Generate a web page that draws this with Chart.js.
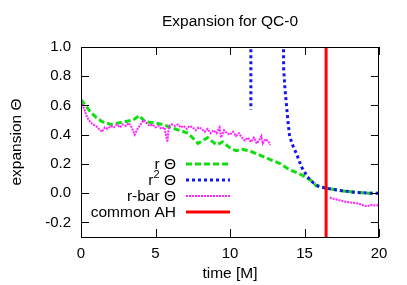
<!DOCTYPE html>
<html>
<head>
<meta charset="UTF-8">
<title>Expansion for QC-0</title>
<script src="https://cdn.jsdelivr.net/npm/chart.js"></script>
<style>
    body { margin: 0; background: #fff; }
    #box { width: 407px; height: 285px; }
</style>
</head>
<body>
<div id="box"><canvas id="myChart" width="407" height="285"></canvas></div>
<script>
// data
const tR = [0, 0.3, 0.6, 1.0, 1.4, 2.0, 2.5, 3.0, 3.5, 3.9, 4.3, 5.0, 5.5, 6.0, 6.6, 7.2, 7.85, 8.5, 9.1, 9.5, 10.0, 10.4, 10.8, 11.3, 12.0, 12.7, 13.4, 14.0, 14.5, 14.9, 15.4, 15.8, 16.4, 17.0, 17.6, 18.5, 19.3, 20];
const rTheta = [0.64, 0.60, 0.56, 0.52, 0.49, 0.47, 0.48, 0.49, 0.50, 0.53, 0.49, 0.48, 0.47, 0.45, 0.43, 0.41, 0.34, 0.38, 0.33, 0.35, 0.31, 0.29, 0.30, 0.29, 0.26, 0.23, 0.20, 0.16, 0.14, 0.12, 0.09, 0.05, 0.035, 0.025, 0.015, 0.005, 0.0, 0.0];

const tR2 = [11.4, 11.4, 12.0, 13.55, 13.6, 13.7, 13.8, 13.9, 14.0, 14.2, 14.5, 14.8, 15.2, 15.6, 15.9, 16.4, 17.0, 17.6, 18.5, 19.3, 20];
const r2Theta = [1.6, 0.57, null, 1.6, 0.85, 0.70, 0.59, 0.48, 0.39, 0.33, 0.26, 0.18, 0.11, 0.07, 0.05, 0.035, 0.025, 0.015, 0.005, 0.0, 0.0];

const tRbar = [0, 0.2, 0.4, 0.6, 0.8, 1.0, 1.2, 1.4, 1.6, 1.8, 2.0, 2.2, 2.4, 2.6, 2.8, 3.0, 3.2, 3.4, 3.6, 3.8, 4.0, 4.2, 4.4, 4.6, 4.8, 5.0, 5.2, 5.4, 5.6, 5.8, 5.9, 6.1, 6.3, 6.5, 6.7, 6.9, 7.1, 7.3, 7.5, 7.7, 7.9, 8.1, 8.3, 8.5, 8.7, 8.9, 9.1, 9.3, 9.4, 9.6, 9.8, 10.0, 10.2, 10.4, 10.6, 10.8, 11.0, 11.2, 11.4, 11.6, 11.8, 12.0, 12.1, 12.2, 12.4, 12.6, 12.7,
    14.0, 16.7, 17.0, 17.4, 17.8, 18.2, 18.6, 19.0, 19.2, 19.5, 19.8, 20];
const rbarTheta = [0.63, 0.58, 0.52, 0.49, 0.47, 0.46, 0.44, 0.42, 0.45, 0.44, 0.46, 0.45, 0.47, 0.45, 0.47, 0.46, 0.48, 0.45, 0.40, 0.44, 0.47, 0.50, 0.48, 0.46, 0.47, 0.45, 0.46, 0.44, 0.45, 0.35, 0.46, 0.47, 0.46, 0.47, 0.45, 0.46, 0.44, 0.46, 0.45, 0.43, 0.45, 0.44, 0.42, 0.44, 0.41, 0.43, 0.41, 0.45, 0.38, 0.43, 0.41, 0.40, 0.42, 0.39, 0.41, 0.38, 0.36, 0.38, 0.35, 0.38, 0.34, 0.37, 0.39, 0.34, 0.37, 0.35, 0.33,
    null, -0.03, -0.04, -0.05, -0.06, -0.065, -0.07, -0.085, -0.09, -0.08, -0.085, -0.08];

const tAH = [16.45, 16.45];
const ahLine = [-0.3, 1.0];

const xTicks = [0, 5, 10, 15, 20];
const yTicks = [-0.2, 0, 0.2, 0.4, 0.6, 0.8, 1.0];

const legendNames = ['r Θ', 'r2 Θ', 'r-bar Θ', 'common AH'];

function pts(t, v) {
    return t.map((x, i) => ({ x: x, y: v[i] }));
}

const FONT = '"Liberation Sans", Arial, sans-serif';

// title, frame, inward ticks and the legend, gnuplot style
const decor = {
    id: 'decor',
    afterDatasetsDraw(chart) {
        const c = chart.ctx;
        const a = chart.chartArea;
        const xs = chart.scales.x, ys = chart.scales.y;
        c.save();
        c.strokeStyle = '#000';
        c.lineWidth = 1;
        c.beginPath();
        xTicks.forEach(v => {
            const px = Math.round(xs.getPixelForValue(v)) + 0.5;
            c.moveTo(px, a.bottom); c.lineTo(px, a.bottom - 8);
            c.moveTo(px, a.top); c.lineTo(px, a.top + 8);
        });
        yTicks.forEach(v => {
            const py = Math.round(ys.getPixelForValue(v)) + 0.5;
            c.moveTo(a.left, py); c.lineTo(a.left + 8, py);
            c.moveTo(a.right, py); c.lineTo(a.right - 8, py);
        });
        c.stroke();
        c.strokeRect(a.left + 0.5, a.top + 0.5, a.right - a.left - 1, a.bottom - a.top);

        // title
        c.fillStyle = '#000';
        c.font = '15.5px ' + FONT;
        c.textAlign = 'center';
        c.textBaseline = 'middle';
        c.fillText('Expansion for QC-0', (a.left + a.right) / 2, 22);

        // legend
        const ds = chart.data.datasets;
        const rows = [164, 180, 196, 212];
        c.textAlign = 'right';
        rows.forEach((y, i) => {
            c.font = '15.5px ' + FONT;
            if (i === 1) {
                const tail = ' Θ';
                const wt = c.measureText(tail).width;
                c.fillText(tail, 176, y + 1);
                c.font = '11px ' + FONT;
                const w2 = c.measureText('2').width;
                c.fillText('2', 176 - wt, y - 5);
                c.font = '15.5px ' + FONT;
                c.fillText('r', 176 - wt - w2, y + 1);
            } else {
                c.fillText(legendNames[i], 176, y + 1);
            }
            const d = ds[i];
            c.strokeStyle = d.borderColor;
            c.lineWidth = d.borderWidth;
            c.setLineDash(d.borderDash || []);
            c.beginPath();
            c.moveTo(186, y); c.lineTo(230, y);
            c.stroke();
            c.setLineDash([]);
        });
        c.restore();
    }
};

new Chart(document.getElementById('myChart'), {
    type: 'line',
    data: {
        datasets: [
            { label: legendNames[0], data: pts(tR, rTheta), borderColor: '#11dd11', borderWidth: 3, borderDash: [6, 3], order: 3 },
            { label: legendNames[1], data: pts(tR2, r2Theta), borderColor: '#1515ee', borderWidth: 3, borderDash: [3, 3], order: 2 },
            { label: legendNames[2], data: pts(tRbar, rbarTheta), borderColor: '#ff22ff', borderWidth: 2, borderDash: [2, 1], order: 1 },
            { label: legendNames[3], data: pts(tAH, ahLine), borderColor: '#ff0000', borderWidth: 3, order: 0 }
        ]
    },
    options: {
        responsive: false,
        devicePixelRatio: 1,
        animation: false,
        spanGaps: false,
        elements: { point: { radius: 0 }, line: { tension: 0, fill: false } },
        layout: { padding: { top: 47, right: 28, left: 0, bottom: 0 } },
        plugins: { legend: { display: false }, tooltip: { enabled: false }, title: { display: false } },
        scales: {
            x: {
                type: 'linear', min: 0, max: 20,
                afterFit: s => { s.height = 48; },
                afterBuildTicks: s => { s.ticks = xTicks.map(v => ({ value: v })); },
                grid: { display: false, drawTicks: false },
                border: { display: false },
                ticks: { color: '#000', padding: 8, maxRotation: 0, font: { size: 15, family: FONT } },
                title: { display: true, text: 'time [M]', color: '#000', padding: { top: 0, bottom: 2 }, font: { size: 15.5, family: FONT } }
            },
            y: {
                min: -0.3, max: 1.0,
                afterFit: s => { s.width = 81; },
                afterBuildTicks: s => { s.ticks = yTicks.map(v => ({ value: v })); },
                grid: { display: false, drawTicks: false },
                border: { display: false },
                ticks: { color: '#000', padding: 10, font: { size: 15, family: FONT }, callback: v => v.toFixed(1) },
                title: { display: true, text: 'expansion Θ', color: '#000', padding: { top: 7, bottom: 0 }, font: { size: 15.5, family: FONT } }
            }
        }
    },
    plugins: [decor]
});
</script>
</body>
</html>
